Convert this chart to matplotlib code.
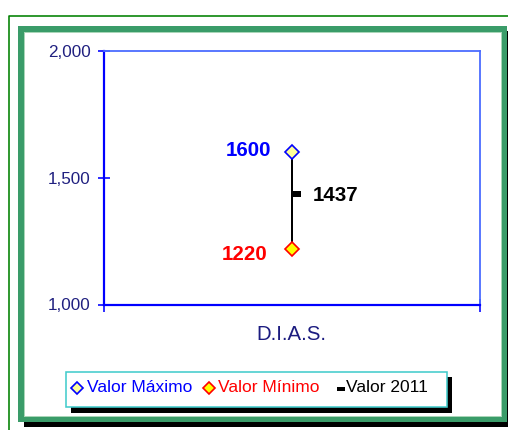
import matplotlib
matplotlib.use("Agg")
import matplotlib.pyplot as plt
from matplotlib.patches import Rectangle
from matplotlib.lines import Line2D

categories = ["D.I.A.S."]
valor_maximo = [1600]
valor_minimo = [1220]
valor_2011 = [1437]
y_ticks = [1000, 1500, 2000]
y_tick_labels = ["1,000", "1,500", "2,000"]
legend_labels = ["Valor Máximo", "Valor Mínimo", "Valor 2011"]

plt.rcParams['font.family'] = ['Liberation Sans', 'DejaVu Sans']

W, H = 508, 430
fig = plt.figure(figsize=(W / 100, H / 100), dpi=100)
fig.patch.set_facecolor('white')


def fx(x):
    return x / W


def fy(y):
    return 1 - y / H


def rect_img(x0, y0, x1, y1, **kw):
    r = Rectangle((fx(x0), fy(y1)), fx(x1) - fx(x0), fy(y0) - fy(y1),
                  transform=fig.transFigure, **kw)
    fig.add_artist(r)
    return r


def line_img(xs, ys, **kw):
    l = Line2D([fx(x) for x in xs], [fy(y) for y in ys], transform=fig.transFigure, **kw)
    fig.add_artist(l)
    return l


PX = 72 / 100  # points per pixel

# outer thin green line
line_img([8.5, 8.5, 520], [440, 15.5, 15.5], color='#008000', lw=1.6 * PX, zorder=-10)
# frame shadow
rect_img(23.5, 31, 513, 427, facecolor='black', edgecolor='none', zorder=-9)
# green frame band
rect_img(18, 26, 507, 422, facecolor='#3a9c69', edgecolor='none', zorder=-8)
# light inner edge
rect_img(23.5, 31.5, 501.5, 416.5, facecolor='#a9d6b8', edgecolor='none', zorder=-7)
rect_img(24.5, 32.5, 500.5, 415.5, facecolor='white', edgecolor='none', zorder=-6)

# plot axes
ax = fig.add_axes([fx(103.5), fy(304.5), fx(480) - fx(103.5), fy(51) - fy(304.5)])
ax.set_facecolor('none')
ax.set_xlim(0, 1)
ax.set_ylim(1000, 2000)
for s in ['left', 'bottom']:
    ax.spines[s].set_color('#0000ff')
    ax.spines[s].set_linewidth(2.2 * PX)
for s in ['top', 'right']:
    ax.spines[s].set_color('#4a6cff')
    ax.spines[s].set_linewidth(1.8 * PX)

ax.set_yticks(y_ticks, y_tick_labels)
ax.tick_params(axis='y', direction='inout', length=12 * PX, width=1.6 * PX,
               color='#0000ff', labelcolor='#202080', labelsize=12.3, pad=7 * PX)
ax.set_xticks([0, 1], ['', ''])
ax.tick_params(axis='x', direction='inout', length=13 * PX, width=1.6 * PX,
               color='#0000ff')

xs = [0.5]
ax.vlines(xs, valor_minimo, valor_maximo, color='black', lw=2 * PX, zorder=3)
ax.plot(xs, valor_maximo, linestyle='none', marker='D', ms=6.8, mfc='#ffff99',
        mec='#0000ff', mew=1.2, zorder=5, clip_on=False)
ax.plot(xs, valor_minimo, linestyle='none', marker='D', ms=6.8, mfc='#ffff00',
        mec='#ff0000', mew=1.2, zorder=5, clip_on=False)
close_marker = [(0.15, -0.35), (1, -0.35), (1, 0.35), (0.15, 0.35), (0.15, -0.35)]
ax.plot(xs, valor_2011, linestyle='none', marker=close_marker, ms=13,
        mfc='black', mec='black', mew=0, zorder=5)

ax.annotate(f"{valor_maximo[0]}", (xs[0], valor_maximo[0]), textcoords='offset pixels',
            xytext=(-20.5, -3.3), ha='right', va='baseline', fontsize=14.8,
            fontweight='bold', color='#0000ff')
ax.annotate(f"{valor_minimo[0]}", (xs[0], valor_minimo[0]), textcoords='offset pixels',
            xytext=(-24, -11), ha='right', va='baseline', fontsize=14.8,
            fontweight='bold', color='#ff0000')
ax.annotate(f"{valor_2011[0]}", (xs[0], valor_2011[0]), textcoords='offset pixels',
            xytext=(21, -7.3), ha='left', va='baseline', fontsize=14.8,
            fontweight='bold', color='black')

# category label
fig.text(fx(291.5), fy(339.5), categories[0], ha='center', va='baseline',
         fontsize=14.7, color='#1c1c80')

# legend (manual)
rect_img(71, 377, 452, 413, facecolor='black', edgecolor='none', zorder=2)
rect_img(65.5, 371.5, 446.5, 406.5, facecolor='white', edgecolor='#44cccc',
         lw=1.6 * PX, zorder=3)
line_img([77], [388], linestyle='none', marker='D', ms=6, mfc='#ffff99',
         mec='#0000ff', mew=1.2, zorder=4)
line_img([209], [388], linestyle='none', marker='D', ms=6, mfc='#ffff00',
         mec='#ff0000', mew=1.2, zorder=4)
leg_mark = [(-1, -0.6), (1, -0.6), (1, 0.6), (-1, 0.6), (-1, -0.6)]
line_img([341], [389], linestyle='none', marker=leg_mark, ms=5.8, mfc='black',
         mec='black', mew=0, zorder=4)
for x, lab, col in zip([87, 218, 346], legend_labels, ['#0000ff', '#ff0000', 'black']):
    fig.text(fx(x), fy(392.3), lab, ha='left', va='baseline', fontsize=12.5,
             color=col, zorder=5)

fig.savefig('out.png', dpi=100)
